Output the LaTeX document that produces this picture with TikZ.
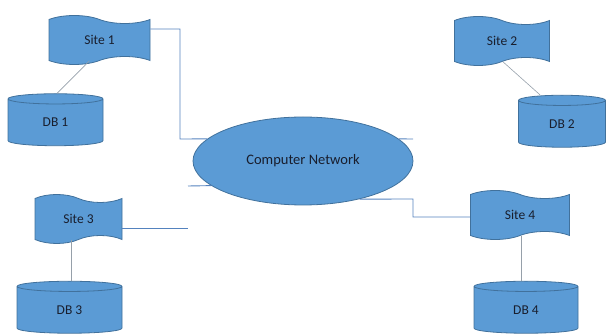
\documentclass[tikz,border=0pt]{standalone}
\usepackage{fontspec}
\setmainfont{Carlito}
\usetikzlibrary{shapes.geometric,shapes.symbols}
\definecolor{shapefill}{RGB}{91,155,213}
\definecolor{shapeline}{RGB}{65,113,156}
\definecolor{linkcol}{RGB}{84,130,190}
\definecolor{tiecol}{RGB}{150,160,170}
\definecolor{labelcol}{RGB}{25,30,45}
\begin{document}
\begin{tikzpicture}[x=1pt,y=-1pt,
  font=\fontsize{13.5}{15}\selectfont, text=labelcol,
  sitebox/.style={tape, tape bend top=out and in, tape bend bottom=in and out,
    tape bend height=8pt, draw=shapeline, fill=shapefill, line width=0.8pt,
    inner sep=0pt, minimum width=#1, minimum height=49pt},
  dbcyl/.style={cylinder, shape border rotate=90, aspect=0.4,
    draw=shapeline, fill=shapefill, line width=0.8pt, inner sep=0pt,
    minimum width=#1, minimum height=52pt},
  netshape/.style={ellipse, draw=shapeline, fill=shapefill, line width=0.8pt,
    minimum width=220pt, minimum height=88pt},
  link/.style={draw=linkcol, line width=0.9pt},
  tie/.style={draw=tiecol, line width=0.6pt}]
\useasboundingbox (0,0) rectangle (606,336);

% network cloud in the middle
\node[netshape, font=\fontsize{14.5}{16}\selectfont] (net) at (303,161) {Computer Network};

% sites
\node[sitebox=101pt] (s1) at (99.5,40) {Site 1};
\node[sitebox=95pt]  (s2) at (502,41) {Site 2};
\node[sitebox=87pt]  (s3) at (78.5,219) {Site 3};
\node[sitebox=99pt]  (s4) at (520,215) {Site 4};

% databases
\node[dbcyl=95pt]  (db1) at (55.5,122.5) {DB 1};
\node[dbcyl=87pt]  (db2) at (562,124) {DB 2};
\node[dbcyl=105pt] (db3) at (69.5,310) {DB 3};
\node[dbcyl=104pt] (db4) at (526,310) {DB 4};

% junction points of the links
\coordinate (j1) at (180,139);
\coordinate (r1) at (413,139);
\coordinate (l3) at (188,186);
\coordinate (c3) at (188,228);
\coordinate (j4) at (413,199);

% links to the network
\draw[link] ([yshift=11pt]s1.east) -| (j1) -- (net.167);
\draw[link] (net.13) -- (r1);
\draw[link] (l3) -- (net.195);
\draw[link] ([yshift=-9pt]s3.east) -- (c3);
\draw[link] ([yshift=-2pt]s4.west) -| (j4) -- (net.326);

% site to database ties
\draw[tie] ([xshift=-10pt]s1.south) -- ([xshift=1.5pt]db1.north);
\draw[tie] ([xshift=1pt]s2.south) -- ([xshift=-22pt]db2.north);
\draw[tie] ([xshift=-7pt]s3.south) -- ([xshift=-7pt]s3.south |- db3.north);
\draw[tie] ([xshift=1pt]s4.south) -- ([xshift=1pt]s4.south |- db4.north);
\end{tikzpicture}
\end{document}
